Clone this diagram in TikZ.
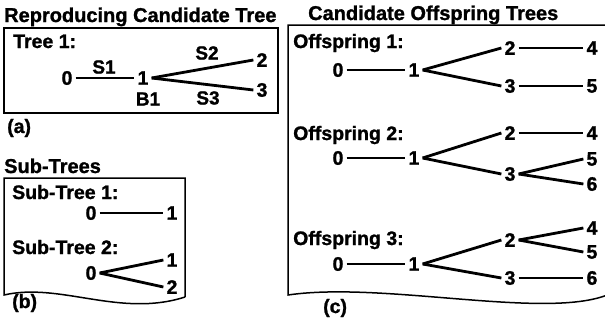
\documentclass[tikz,border=0pt]{standalone}
\usepackage{fontspec}
\setmainfont{Liberation Sans}[BoldFeatures={FakeBold=1.2}]
\begin{document}
\begin{tikzpicture}[x=1pt,y=-1pt,
  title/.style={anchor=base west,inner sep=0pt,font=\fontsize{20}{24}\selectfont\bfseries},
  lbl/.style={anchor=base west,inner sep=0pt,font=\fontsize{19.5}{23}\selectfont\bfseries},
  elbl/.style={inner sep=0pt,font=\fontsize{19}{22}\selectfont\bfseries},
  vtx/.style={inner sep=3pt,font=\fontsize{19.5}{22}\selectfont\bfseries},
  edge/.style={line width=2.8pt},
  frame/.style={line width=1.5pt}]
\useasboundingbox (0,0) rectangle (605,322);
\clip (0,0) rectangle (605,322);
% ---------- (a)
\node[title] (ta) at (4,22) {Reproducing Candidate Tree};
\draw[line width=2pt] (4,28) rectangle (278,113);
\node[lbl] (tr1) at (13,48) {Tree 1:};
\node[vtx] (a0) at (67,78) {0};
\node[vtx] (a1) at (143,78) {1};
\node[vtx] (a2) at (262,60) {2};
\node[vtx] (a3) at (262,90) {3};
\draw[edge] (a0) -- (a1);
\draw[edge] (a1.east) -- (a2.west);
\draw[edge] (a1.east) -- (a3.west);
\node[elbl] (s1) at (104,67) {S1};
\node[elbl] (s2) at (207,53) {S2};
\node[elbl] (b1) at (148,99) {B1};
\node[elbl] (s3) at (208,98) {S3};
\node[lbl] (la) at (7,133) {(a)};
% ---------- (b)
\node[title] (tb) at (4,173) {Sub-Trees};
\draw[frame] (185,297) -- (185,178) -- (4,178) -- (4,295)
  .. controls (60,282) and (120,318) .. (185,297);
\node[lbl] (st1) at (12,199) {Sub-Tree 1:};
\node[vtx] (b0) at (91,213) {0};
\node[vtx] (b1n) at (172,213) {1};
\draw[edge] (b0) -- (b1n);
\node[lbl] (st2) at (12,254) {Sub-Tree 2:};
\node[vtx] (c0) at (91,273) {0};
\node[vtx] (c1) at (172,260) {1};
\node[vtx] (c2) at (172,287) {2};
\draw[edge] (c0.east) -- (c1.west);
\draw[edge] (c0.east) -- (c2.west);
\node[lbl] (lb) at (12,308) {(b)};
% ---------- (c)
\node[title] (tc) at (308,20) {Candidate Offspring Trees};
\draw[frame] (620,288) -- (620,25) -- (288,25) -- (288,295)
  .. controls (390,280) and (570,326) .. (620,288);
% offspring 1
\node[lbl] (o1) at (293,48) {Offspring 1:};
\node[vtx] (p0) at (338,70) {0};
\node[vtx] (p1) at (414,70) {1};
\node[vtx] (p2) at (510,48) {2};
\node[vtx] (p3) at (510,86) {3};
\node[vtx] (p4) at (592,48) {4};
\node[vtx] (p5) at (592,86) {5};
\draw[edge] (p0) -- (p1);
\draw[edge] (p1.east) -- (p2.west);
\draw[edge] (p1.east) -- (p3.west);
\draw[edge] (p2) -- (p4);
\draw[edge] (p3) -- (p5);
% offspring 2
\node[lbl] (o2) at (293,140) {Offspring 2:};
\node[vtx] (q0) at (338,158) {0};
\node[vtx] (q1) at (414,158) {1};
\node[vtx] (q2) at (510,133) {2};
\node[vtx] (q3) at (510,174) {3};
\node[vtx] (q4) at (592,133) {4};
\node[vtx] (q5) at (592,159) {5};
\node[vtx] (q6) at (592,184) {6};
\draw[edge] (q0) -- (q1);
\draw[edge] (q1.east) -- (q2.west);
\draw[edge] (q1.east) -- (q3.west);
\draw[edge] (q2) -- (q4);
\draw[edge] (q3.east) -- (q5.west);
\draw[edge] (q3.east) -- (q6.west);
% offspring 3
\node[lbl] (o3) at (293,245) {Offspring 3:};
\node[vtx] (r0) at (338,264) {0};
\node[vtx] (r1) at (414,264) {1};
\node[vtx] (r2) at (510,240) {2};
\node[vtx] (r3) at (510,278) {3};
\node[vtx] (r4) at (592,228) {4};
\node[vtx] (r5) at (592,252) {5};
\node[vtx] (r6) at (592,278) {6};
\draw[edge] (r0) -- (r1);
\draw[edge] (r1.east) -- (r2.west);
\draw[edge] (r1.east) -- (r3.west);
\draw[edge] (r2.east) -- (r4.west);
\draw[edge] (r2.east) -- (r5.west);
\draw[edge] (r3) -- (r6);
\node[lbl] (lc) at (323,313) {(c)};
\end{tikzpicture}
\end{document}
